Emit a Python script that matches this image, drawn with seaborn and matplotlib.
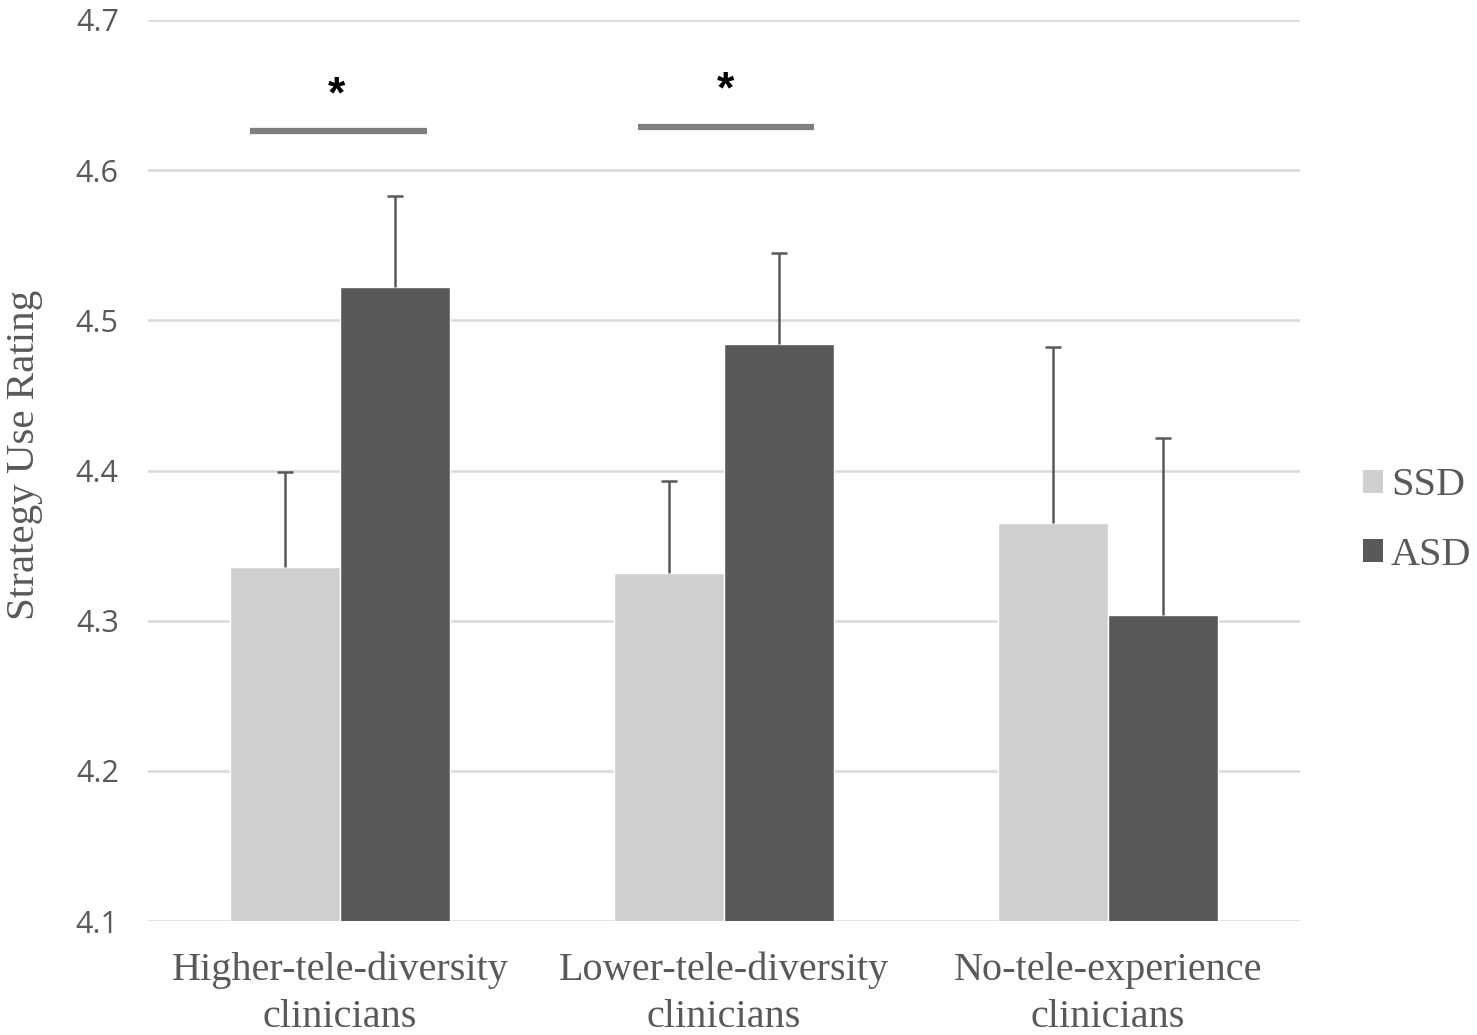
import numpy as np
import pandas as pd
import matplotlib.pyplot as plt
import seaborn as sns
from matplotlib.patches import Patch

# values
groups = ["Higher-tele-diversity\nclinicians", "Lower-tele-diversity\nclinicians", "No-tele-experience\nclinicians"]
ssd_mean = [4.336, 4.332, 4.365]
asd_mean = [4.522, 4.484, 4.304]
ssd_err = [0.063, 0.061, 0.117]
asd_err = [0.061, 0.061, 0.118]
series = ["SSD", "ASD"]
colors = ["#d0cfcf", "#595959"]
# significance brackets (x in category units)
sig_x0 = [-0.234, 0.776]
sig_x1 = [0.227, 1.234]
sig_star_x = [-0.01, 1.003]
sig_y = [4.626, 4.629]
yticks = [4.1, 4.2, 4.3, 4.4, 4.5, 4.6, 4.7]

df = pd.DataFrame({
    "group": groups * 2,
    "series": ["SSD"] * 3 + ["ASD"] * 3,
    "mean": ssd_mean + asd_mean,
    "err": ssd_err + asd_err,
})

sns.set_style("white")
txt_col = "#595959"

fig = plt.figure(figsize=(14.77, 10.35), dpi=100)
ax = fig.add_axes([0.1002, 0.110, 0.7799, 0.8707])

sns.barplot(data=df, x="group", y="mean", hue="series", hue_order=series,
            palette=colors, width=0.572, gap=0, errorbar=None, legend=False,
            saturation=1, ax=ax, zorder=2)

# upward-only error bars, centred on each bar
for patch, (_, row) in zip(ax.patches, df.iterrows()):
    xc = patch.get_x() + patch.get_width() / 2
    eb = ax.errorbar(xc, row["mean"], yerr=[[0], [row["err"]]], fmt="none",
                     ecolor=txt_col, elinewidth=1.8, capsize=6, capthick=1.8, zorder=3)
    eb[1][0].set_visible(False)  # hide the cap sitting on the bar top

# significance bars
for x0, x1, xs, yv in zip(sig_x0, sig_x1, sig_star_x, sig_y):
    ax.plot([x0, x1], [yv, yv], color="#7f7f7f", lw=4.5,
            solid_capstyle="butt", zorder=3)
    ax.text(xs, yv + 0.010, "*", ha="center", va="bottom",
            fontsize=32, fontweight="bold", color="black", family="Liberation Sans")

ax.set_ylim(4.1, 4.7)
ax.set_xlim(-0.5, 2.5)
ax.set_yticks(yticks)
ax.set_yticklabels([f"{t:.1f}" for t in yticks], family="Open Sans",
                   fontsize=22, color=txt_col)
ax.set_xticks(range(len(groups)))
ax.set_xticklabels(groups, family="Liberation Serif", fontsize=29,
                   color=txt_col, linespacing=1.35)
ax.tick_params(axis="y", length=0, pad=21)
ax.tick_params(axis="x", length=0, pad=22)
ax.yaxis.grid(True, color="#d9d9d9", lw=1.8, zorder=0)
ax.set_axisbelow(True)
for s in ["top", "right", "left", "bottom"]:
    ax.spines[s].set_visible(False)

ax.set_xlabel("")
ax.set_ylabel("Strategy Use Rating", family="Liberation Serif", fontsize=29.5,
              color=txt_col)
ax.yaxis.set_label_coords(-0.091, 0.517)

handles = [Patch(facecolor=c, edgecolor="none") for c in colors]
fig.legend(handles, series, loc="center left", bbox_to_anchor=(0.898, 0.497),
           frameon=False, prop={"family": "Liberation Serif", "size": 29},
           labelcolor=txt_col, handlelength=0.5, handleheight=0.5,
           handletextpad=0.2, labelspacing=0.8)

fig.savefig("out.png", dpi=100)
